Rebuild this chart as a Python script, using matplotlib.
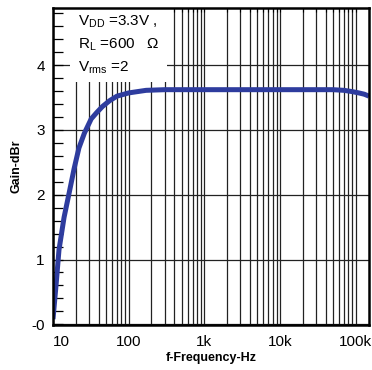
import matplotlib
matplotlib.use('Agg')
import matplotlib.pyplot as plt
import matplotlib.ticker as mticker
from matplotlib.patches import Rectangle
import numpy as np

plt.rcParams['font.family'] = ['Liberation Sans', 'DejaVu Sans']
plt.rcParams['mathtext.fontset'] = 'custom'
plt.rcParams['mathtext.rm'] = 'Liberation Sans'
plt.rcParams['mathtext.it'] = 'Liberation Sans'

# frequency response
freq = [10, 11, 12, 14, 16.5, 19, 22, 26, 32, 38, 45, 56, 70, 100, 170, 300,
        1000, 10000, 50000, 70000, 90000, 110000, 130000, 150000]
gain = [0.08, 0.62, 1.15, 1.65, 2.05, 2.4, 2.72, 2.95, 3.17, 3.27, 3.36, 3.45,
        3.52, 3.57, 3.61, 3.62, 3.62, 3.62, 3.62, 3.61, 3.59, 3.57, 3.55, 3.52]

xticks = [10, 100, 1000, 10000, 100000]
xlabels = ['10', '100', '1k', '10k', '100k']
yticks = [0, 1, 2, 3, 4]
ylabels = ['-0', '1', '2', '3', '4']

fig = plt.figure(figsize=(3.72, 3.70), dpi=100)
ax = fig.add_axes([53/372, 45/370, 316/372, 317/370])

ax.plot(freq, gain, color='#2e3c9e', lw=3.6, solid_capstyle='butt', zorder=4)

ax.set_xscale('log')
ax.set_xlim(10, 150000)
ax.set_ylim(-0.01, 4.88)

ax.xaxis.set_major_locator(mticker.FixedLocator(xticks))
ax.xaxis.set_minor_locator(mticker.LogLocator(base=10, subs=np.arange(2, 10)))
ax.xaxis.set_minor_formatter(mticker.NullFormatter())
ax.set_xticks(xticks)
ax.set_xticklabels(xlabels, fontsize=11)
ax.set_yticks(yticks)
ax.set_yticklabels(ylabels, fontsize=11)
ax.yaxis.set_minor_locator(mticker.MultipleLocator(0.2))
ax.get_xticklabels()[0].set_horizontalalignment('left')

ax.tick_params(axis='x', which='both', direction='in', bottom=False, top=True, pad=7)
ax.tick_params(axis='x', which='both', length=3, width=0.8)
ax.tick_params(axis='y', which='both', direction='in', left=True, right=False,
               length=7, width=0.9, pad=6)

ax.grid(True, which='both', axis='x', color='#222222', lw=0.9)
ax.grid(True, which='major', axis='y', color='#222222', lw=0.9)
ax.set_axisbelow(True)

for s in ax.spines.values():
    s.set_linewidth(1.8)
    s.set_zorder(5)

# white box with the test conditions
ax.add_patch(Rectangle((0.054, 0.767), 0.306, 0.233, transform=ax.transAxes,
                       facecolor='white', edgecolor='none', zorder=3))
ax.text(0.079, 0.956, r'V$_{\rm DD}$ =3.3V ,', transform=ax.transAxes,
        fontsize=11, va='center', zorder=4)
ax.text(0.079, 0.883, r'R$_{\rm L}$ =600   $\Omega$', transform=ax.transAxes,
        fontsize=11, va='center', zorder=4)
ax.text(0.079, 0.811, r'V$_{\rm rms}$ =2', transform=ax.transAxes,
        fontsize=11, va='center', zorder=4)

ax.set_xlabel('f-Frequency-Hz', fontsize=9, fontweight='bold', labelpad=2)
ax.set_ylabel('Gain-dBr', fontsize=9, fontweight='bold', labelpad=6)

fig.savefig('out.png', dpi=100)
